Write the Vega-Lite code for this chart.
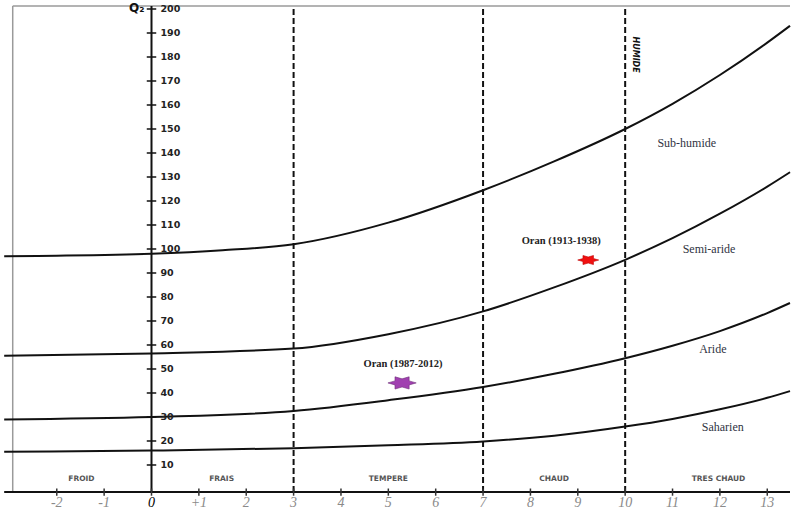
{
  "$schema": "https://vega.github.io/schema/vega-lite/v6.json",
  "width": 794,
  "height": 511,
  "padding": 0,
  "autosize": {"type": "fit", "contains": "padding"},
  "background": "white",
  "config": {"view": {"stroke": null}},
  "datasets": {
    "curves": [
      {"x": -3.11, "q": 97, "c": "a"}, {"x": -2, "q": 97.2, "c": "a"}, {"x": 0, "q": 98, "c": "a"}, {"x": 1.5, "q": 99.5, "c": "a"}, {"x": 3, "q": 102, "c": "a"}, {"x": 5, "q": 111, "c": "a"}, {"x": 7, "q": 124.5, "c": "a"}, {"x": 8.5, "q": 136.5, "c": "a"}, {"x": 10, "q": 150, "c": "a"}, {"x": 11, "q": 160.5, "c": "a"}, {"x": 12, "q": 172.5, "c": "a"}, {"x": 13, "q": 186, "c": "a"}, {"x": 13.48, "q": 193, "c": "a"},
      {"x": -3.11, "q": 55.5, "c": "b"}, {"x": 0, "q": 56.5, "c": "b"}, {"x": 3, "q": 58.5, "c": "b"}, {"x": 5, "q": 64.5, "c": "b"}, {"x": 7, "q": 74, "c": "b"}, {"x": 8.5, "q": 84, "c": "b"}, {"x": 10, "q": 95.5, "c": "b"}, {"x": 11, "q": 104.5, "c": "b"}, {"x": 12, "q": 114.7, "c": "b"}, {"x": 13, "q": 126, "c": "b"}, {"x": 13.48, "q": 132, "c": "b"},
      {"x": -3.11, "q": 29, "c": "c"}, {"x": 0, "q": 30, "c": "c"}, {"x": 3, "q": 32.5, "c": "c"}, {"x": 5, "q": 37, "c": "c"}, {"x": 7, "q": 42.5, "c": "c"}, {"x": 8.5, "q": 48, "c": "c"}, {"x": 10, "q": 54.5, "c": "c"}, {"x": 11, "q": 59.7, "c": "c"}, {"x": 12, "q": 65.8, "c": "c"}, {"x": 13, "q": 73.3, "c": "c"}, {"x": 13.48, "q": 77.5, "c": "c"},
      {"x": -3.11, "q": 15.5, "c": "d"}, {"x": 0, "q": 16, "c": "d"}, {"x": 3, "q": 17, "c": "d"}, {"x": 5, "q": 18.2, "c": "d"}, {"x": 7, "q": 19.8, "c": "d"}, {"x": 8.5, "q": 22.2, "c": "d"}, {"x": 10, "q": 26, "c": "d"}, {"x": 11, "q": 29.2, "c": "d"}, {"x": 12, "q": 33.2, "c": "d"}, {"x": 13, "q": 38, "c": "d"}, {"x": 13.48, "q": 40.8, "c": "d"}
    ],
    "rules": [
      {"kind": "frame", "x": -2.93, "x2": -2.93, "y": -1.3, "y2": 201.2},
      {"kind": "frame", "x": -2.93, "x2": 13.48, "y": 201.2, "y2": 201.2},
      {"kind": "axis", "x": 0, "x2": 0, "y": -1.3, "y2": 201.2},
      {"kind": "axis", "x": -3.11, "x2": 13.48, "y": -1.3, "y2": -1.3},
      {"kind": "dash", "x": 3, "x2": 3, "y": -1.3, "y2": 201.2},
      {"kind": "dash", "x": 7, "x2": 7, "y": -1.3, "y2": 201.2},
      {"kind": "dash", "x": 10, "x2": 10, "y": -1.3, "y2": 201.2}
    ],
    "yticks": [
      {"q": 10}, {"q": 20}, {"q": 30}, {"q": 40}, {"q": 50}, {"q": 60}, {"q": 70}, {"q": 80}, {"q": 90}, {"q": 100},
      {"q": 110}, {"q": 120}, {"q": 130}, {"q": 140}, {"q": 150}, {"q": 160}, {"q": 170}, {"q": 180}, {"q": 190}, {"q": 200}
    ],
    "xticks": [
      {"v": -2, "label": "-2"}, {"v": -1, "label": "-1"}, {"v": 0, "label": "0"}, {"v": 1, "label": "+1"}, {"v": 2, "label": "2"},
      {"v": 3, "label": "3"}, {"v": 4, "label": "4"}, {"v": 5, "label": "5"}, {"v": 6, "label": "6"}, {"v": 7, "label": "7"},
      {"v": 8, "label": "8"}, {"v": 9, "label": "9"}, {"v": 10, "label": "10"}, {"v": 11, "label": "11"}, {"v": 12, "label": "12"}, {"v": 13, "label": "13"}
    ],
    "thermal": [
      {"x": -1.48, "label": "FROID"}, {"x": 1.48, "label": "FRAIS"}, {"x": 5.0, "label": "TEMPERE"}, {"x": 8.5, "label": "CHAUD"}, {"x": 11.97, "label": "TRES CHAUD"}
    ],
    "zones": [
      {"x": 11.3, "q": 144, "label": "Sub-humide"},
      {"x": 11.77, "q": 100, "label": "Semi-aride"},
      {"x": 11.85, "q": 58.3, "label": "Aride"},
      {"x": 12.06, "q": 25.8, "label": "Saharien"}
    ],
    "stations": [
      {"x": 9.22, "q": 95.4, "station": "Oran (1913-1938)", "lx": 8.65, "lq": 103.3},
      {"x": 5.29, "q": 44.2, "station": "Oran (1987-2012)", "lx": 5.31, "lq": 52}
    ],
    "notes": [
      {"x": 10.2, "q": 181, "label": "HUMIDE"}
    ],
    "axisTitle": [
      {"x": -0.15, "q": 200.6, "label": "Q₂"}
    ]
  },
  "layer": [
    {
      "data": {"name": "rules"},
      "transform": [{"filter": "datum.kind === 'frame'"}],
      "mark": {"type": "rule", "color": "#9a9a9a", "strokeWidth": 1.5},
      "encoding": {
        "x": {"field": "x", "type": "quantitative", "scale": {"domain": [-3.114, 13.48], "nice": false, "zero": false}, "axis": null},
        "x2": {"field": "x2"},
        "y": {"field": "y", "type": "quantitative", "scale": {"domain": [-9.17, 203.75], "nice": false, "zero": false}, "axis": null},
        "y2": {"field": "y2"}
      }
    },
    {
      "data": {"name": "rules"},
      "transform": [{"filter": "datum.kind === 'dash'"}],
      "mark": {"type": "rule", "color": "#111", "strokeWidth": 2, "strokeDash": [6, 3]},
      "encoding": {
        "x": {"field": "x", "type": "quantitative"},
        "x2": {"field": "x2"},
        "y": {"field": "y", "type": "quantitative"},
        "y2": {"field": "y2"}
      }
    },
    {
      "data": {"name": "rules"},
      "transform": [{"filter": "datum.kind === 'axis'"}],
      "mark": {"type": "rule", "color": "#111", "strokeWidth": 2},
      "encoding": {
        "x": {"field": "x", "type": "quantitative"},
        "x2": {"field": "x2"},
        "y": {"field": "y", "type": "quantitative"},
        "y2": {"field": "y2"}
      }
    },
    {
      "data": {"name": "curves"},
      "mark": {"type": "line", "color": "#111", "strokeWidth": 2, "interpolate": "monotone"},
      "encoding": {
        "x": {"field": "x", "type": "quantitative"},
        "y": {"field": "q", "type": "quantitative"},
        "detail": {"field": "c"}
      }
    },
    {
      "data": {"name": "yticks"},
      "mark": {"type": "rule", "color": "#111", "strokeWidth": 1.5},
      "encoding": {
        "x": {"datum": -0.1, "type": "quantitative"},
        "x2": {"datum": 0.1},
        "y": {"field": "q", "type": "quantitative"}
      }
    },
    {
      "data": {"name": "yticks"},
      "mark": {"type": "text", "align": "left", "baseline": "middle", "font": "DejaVu Sans", "fontWeight": "bold", "fontSize": 9.5, "color": "#222", "dx": 0},
      "encoding": {
        "x": {"datum": 0.19, "type": "quantitative"},
        "y": {"field": "q", "type": "quantitative"},
        "text": {"field": "q"}
      }
    },
    {
      "data": {"name": "xticks"},
      "mark": {"type": "rule", "color": "#333", "strokeWidth": 1.5},
      "encoding": {
        "x": {"field": "v", "type": "quantitative"},
        "y": {"datum": -2.8, "type": "quantitative"},
        "y2": {"datum": 0.2}
      }
    },
    {
      "data": {"name": "xticks"},
      "mark": {"type": "text", "align": "center", "baseline": "middle", "font": "Liberation Serif", "fontStyle": "italic", "fontSize": 14},
      "encoding": {
        "x": {"field": "v", "type": "quantitative"},
        "y": {"datum": -5.8, "type": "quantitative"},
        "text": {"field": "label"},
        "color": {"condition": {"test": "datum.v === 0", "value": "#000"}, "value": "#8a8a8a"},
        "fontWeight": {"condition": {"test": "datum.v === 0", "value": "bold"}, "value": "normal"}
      }
    },
    {
      "data": {"name": "thermal"},
      "mark": {"type": "text", "align": "center", "baseline": "middle", "font": "DejaVu Sans", "fontWeight": "bold", "fontSize": 7.5, "color": "#555"},
      "encoding": {
        "x": {"field": "x", "type": "quantitative"},
        "y": {"datum": 4.2, "type": "quantitative"},
        "text": {"field": "label"}
      }
    },
    {
      "data": {"name": "zones"},
      "mark": {"type": "text", "align": "center", "baseline": "middle", "font": "Liberation Serif", "fontSize": 12, "color": "#2f3342"},
      "encoding": {
        "x": {"field": "x", "type": "quantitative"},
        "y": {"field": "q", "type": "quantitative"},
        "text": {"field": "label"}
      }
    },
    {
      "data": {"name": "stations"},
      "mark": {"type": "text", "align": "center", "baseline": "middle", "font": "Liberation Serif", "fontWeight": "bold", "fontSize": 10.5, "color": "#222"},
      "encoding": {
        "x": {"field": "lx", "type": "quantitative"},
        "y": {"field": "lq", "type": "quantitative"},
        "text": {"field": "station"}
      }
    },
    {
      "data": {"name": "stations"},
      "mark": {"type": "point", "filled": true, "opacity": 1, "shape": "M1,0L0.5,0.144L0.5,0.433L0,0.289L-0.5,0.433L-0.5,0.144L-1,0L-0.5,-0.144L-0.5,-0.433L0,-0.289L0.5,-0.433L0.5,-0.144Z", "strokeWidth": 0.6},
      "encoding": {
        "x": {"field": "x", "type": "quantitative"},
        "y": {"field": "q", "type": "quantitative"},
        "color": {"field": "station", "type": "nominal", "scale": {"domain": ["Oran (1913-1938)", "Oran (1987-2012)"], "range": ["#f01010", "#a040b0"]}, "legend": null},
        "stroke": {"field": "station", "type": "nominal", "scale": {"domain": ["Oran (1913-1938)", "Oran (1987-2012)"], "range": ["#c00000", "#70307a"]}, "legend": null},
        "size": {"field": "station", "type": "nominal", "scale": {"domain": ["Oran (1913-1938)", "Oran (1987-2012)"], "range": [440, 800]}, "legend": null}
      }
    },
    {
      "data": {"name": "notes"},
      "mark": {"type": "text", "align": "center", "baseline": "middle", "angle": 90, "font": "DejaVu Sans", "fontWeight": "bold", "fontStyle": "italic", "fontSize": 8, "color": "#111"},
      "encoding": {
        "x": {"field": "x", "type": "quantitative"},
        "y": {"field": "q", "type": "quantitative"},
        "text": {"field": "label"}
      }
    },
    {
      "data": {"name": "axisTitle"},
      "mark": {"type": "text", "align": "right", "baseline": "middle", "font": "DejaVu Sans", "fontWeight": "bold", "fontSize": 12, "color": "#111"},
      "encoding": {
        "x": {"field": "x", "type": "quantitative"},
        "y": {"field": "q", "type": "quantitative"},
        "text": {"field": "label"}
      }
    }
  ]
}
